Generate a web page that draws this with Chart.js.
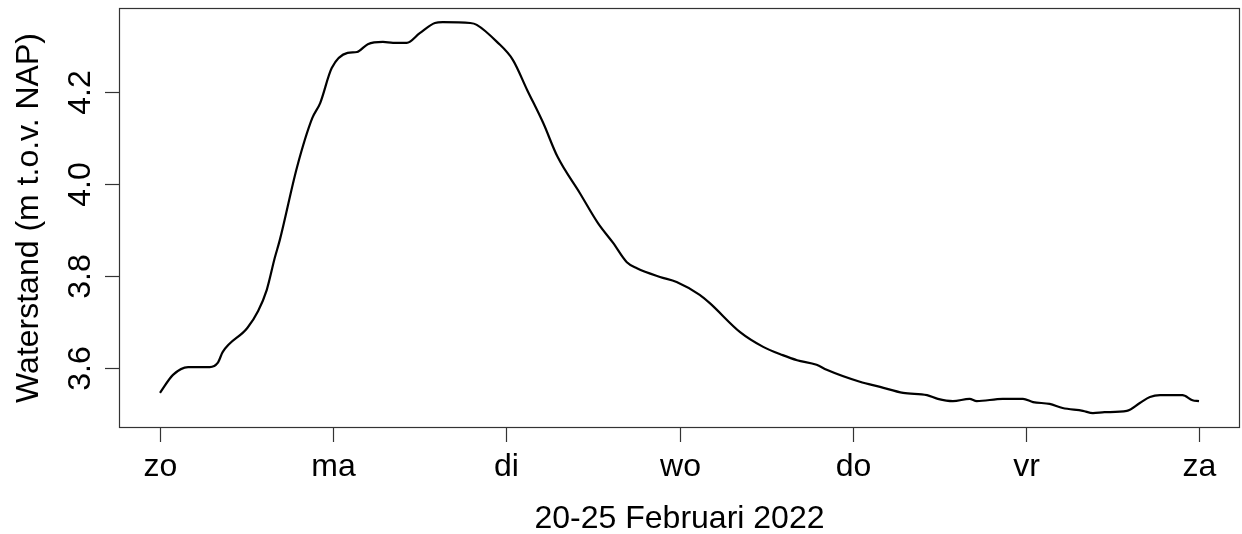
<!DOCTYPE html>
<html>
<head>
<meta charset="utf-8">
<script src="https://cdn.jsdelivr.net/npm/chart.js@4/dist/chart.umd.min.js"></script>
<style>
  html, body { margin: 0; padding: 0; background: #ffffff; }
  #wrap { width: 1242px; height: 534px; position: relative; }
</style>
</head>
<body>
<div id="wrap"><canvas id="c" width="1242" height="534"></canvas></div>
<script>
// Hours since Sunday 20 February 2022 00:00
const hours = [
  0.0, 1.8, 3.9, 6.9, 8.0, 8.7, 12.1, 13.6, 14.8, 15.9, 16.6, 19.0, 21.1, 22.2, 23.8,
  26.0, 27.3, 28.8, 30.9, 32.3, 34.2, 36.0, 38.1, 39.2, 43.0, 43.9, 46.7, 48.9, 50.9,
  53.1, 55.1, 58.2, 60.7, 62.8, 64.7, 66.1, 69.3, 71.6, 74.8, 76.2, 80.4, 83.6, 86.3,
  88.3, 91.0, 92.4, 97.0, 99.8, 103.0, 106.3, 107.8, 109.9, 112.2, 113.2, 116.8, 119.6,
  121.0, 123.3, 125.1, 127.9, 129.3, 130.9, 134.0, 135.8, 137.2, 138.6, 141.7, 143.1, 144.0
];
// Water level in m relative to NAP
const waterstand = [
  3.546, 3.585, 3.602, 3.602, 3.611, 3.635, 3.687, 3.724, 3.770, 3.839, 3.878, 4.037, 4.143, 4.176, 4.252,
  4.285, 4.287, 4.304, 4.309, 4.307, 4.307, 4.328, 4.350, 4.352, 4.350, 4.346, 4.309, 4.270, 4.204,
  4.133, 4.059, 3.980, 3.915, 3.872, 3.830, 3.817, 3.798, 3.787, 3.759, 3.741, 3.678, 3.646, 3.628,
  3.617, 3.607, 3.596, 3.570, 3.559, 3.546, 3.541, 3.533, 3.528, 3.533, 3.528, 3.533, 3.533,
  3.526, 3.522, 3.513, 3.507, 3.502, 3.504, 3.507, 3.524, 3.537, 3.541, 3.541, 3.530, 3.528
];
const dayTicks = [0, 24, 48, 72, 96, 120, 144];
const dayLabels = ['zo', 'ma', 'di', 'wo', 'do', 'vr', 'za'];
const yTicks = [3.6, 3.8, 4.0, 4.2];
const yTickLabels = ['3.6', '3.8', '4.0', '4.2'];
const xTitle = '20-25 Februari 2022';
const yTitle = 'Waterstand (m t.o.v. NAP)';

const FONT = '32px "Liberation Sans", Arial, sans-serif';

// Base-graphics style frame: box, outward ticks, rotated y labels
const frame = {
  id: 'frame',
  afterDraw(chart) {
    const ctx = chart.ctx;
    const a = chart.chartArea;
    const xs = chart.scales.x, ys = chart.scales.y;
    ctx.save();
    ctx.strokeStyle = '#333333';
    ctx.lineWidth = 1.2;
    ctx.strokeRect(Math.round(a.left) + 0.5, Math.round(a.top) + 0.5,
                   Math.round(a.right - a.left) - 1, Math.round(a.bottom - a.top) - 1);

    ctx.fillStyle = '#000000';
    ctx.font = FONT;

    // x axis ticks and labels
    ctx.textAlign = 'center';
    ctx.textBaseline = 'alphabetic';
    dayTicks.forEach((h, i) => {
      const px = Math.round(xs.getPixelForValue(h)) + 0.5;
      ctx.beginPath();
      ctx.moveTo(px, a.bottom);
      ctx.lineTo(px, a.bottom + 14);
      ctx.stroke();
      ctx.fillText(dayLabels[i], px, a.bottom + 48);
    });
    ctx.fillText(xTitle, (a.left + a.right) / 2, a.bottom + 100);

    // y axis ticks and labels
    yTicks.forEach((v, i) => {
      const py = Math.round(ys.getPixelForValue(v)) + 0.5;
      ctx.beginPath();
      ctx.moveTo(a.left, py);
      ctx.lineTo(a.left - 14, py);
      ctx.stroke();
      ctx.save();
      ctx.translate(a.left - 29, py);
      ctx.rotate(-Math.PI / 2);
      ctx.textAlign = 'center';
      ctx.textBaseline = 'alphabetic';
      ctx.fillText(yTickLabels[i], 0, 0);
      ctx.restore();
    });

    ctx.save();
    ctx.translate(38, (a.top + a.bottom) / 2);
    ctx.rotate(-Math.PI / 2);
    ctx.textAlign = 'center';
    ctx.textBaseline = 'alphabetic';
    ctx.fillText(yTitle, 0, 0);
    ctx.restore();
    ctx.restore();
  }
};

const points = hours.map((h, i) => ({ x: h, y: waterstand[i] }));

new Chart(document.getElementById('c'), {
  type: 'line',
  data: {
    datasets: [{
      data: points,
      borderColor: '#000000',
      borderWidth: 2.2,
      pointRadius: 0,
      fill: false,
      cubicInterpolationMode: 'monotone'
    }]
  },
  options: {
    responsive: false,
    animation: false,
    events: [],
    layout: { padding: { left: 119, top: 8, right: 2, bottom: 106 } },
    plugins: { legend: { display: false }, tooltip: { enabled: false } },
    scales: {
      x: {
        type: 'linear',
        min: -5.682,
        max: 149.682,
        display: true,
        grid: { display: false },
        border: { display: false },
        ticks: { display: false },
        afterFit(s) { s.height = 0; }
      },
      y: {
        type: 'linear',
        min: 3.4696,
        max: 4.3826,
        display: true,
        grid: { display: false },
        border: { display: false },
        ticks: { display: false },
        afterFit(s) { s.width = 0; }
      }
    }
  },
  plugins: [frame]
});
</script>
</body>
</html>
